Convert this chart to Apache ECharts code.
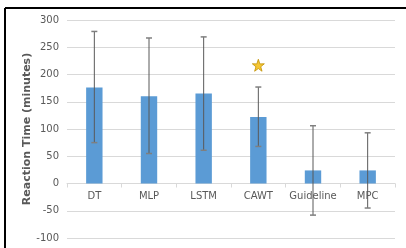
<!DOCTYPE html>
<html>

<head>
  <meta charset="utf-8" />
  <script src="https://cdn.jsdelivr.net/npm/echarts@6/dist/echarts.min.js"></script>
  <style>
    html, body { margin: 0; padding: 0; background: #fff; }
    #chart { width: 406px; height: 248px; }
  </style>
</head>

<body>
  <div id="chart"></div>
  <script type="text/javascript">
    const categories = ["DT", "MLP", "LSTM", "CAWT", "Guideline", "MPC"];
    const meanTime = [176, 160, 165, 122, 24, 24];
    const errHigh = [279, 267, 269, 177, 106, 93];
    const errLow = [75, 55, 61, 68, -58, -45];
    const starPoint = [["CAWT", 217]];
    const yTicks = { min: -100, max: 300, interval: 50 };

    const chart = echarts.init(document.getElementById("chart"));
    const font = "DejaVu Sans";
    const starPath = "path://M50,0 L61.8,35.1 L97.6,34.5 L69.1,56.9 L79.4,90.5 L50,70 L20.6,90.5 L30.9,56.9 L2.4,34.5 L38.2,35.1 Z";

    // grid: top 20, bottom 10 -> plot height 218 for 400 units; zero sits 100 units above the bottom
    const plotH = 248 - 20 - 10;
    const zeroOffset = -plotH * (0 - yTicks.min) / (yTicks.max - yTicks.min);

    var option = {
      animation: false,
      grid: { left: 67, right: 11, top: 20, bottom: 10, outerBoundsMode: 'none' },
      xAxis: {
        type: 'category',
        data: categories,
        offset: zeroOffset,
        axisLine: { onZero: false, lineStyle: { color: '#d9d9d9', width: 1 } },
        axisTick: { show: true, length: 4, lineStyle: { color: '#d9d9d9' } },
        axisLabel: { color: '#595959', fontFamily: font, fontSize: 10, margin: 8, interval: 0 },
        splitLine: { show: false }
      },
      yAxis: {
        type: 'value',
        min: yTicks.min,
        max: yTicks.max,
        interval: yTicks.interval,
        name: 'Reaction Time (minutes)',
        nameLocation: 'middle',
        nameGap: 34,
        nameMoveOverlap: false,
        nameTextStyle: { color: '#595959', fontFamily: font, fontSize: 11, fontWeight: 'bold' },
        axisLine: { show: false },
        axisTick: { show: false },
        axisLabel: { color: '#595959', fontFamily: font, fontSize: 10, margin: 8 },
        splitLine: { lineStyle: { color: '#d9d9d9', width: 1 } }
      },
      graphic: [
        { type: 'line', shape: { x1: 5, y1: 8, x2: 406, y2: 8 }, style: { stroke: '#000', lineWidth: 2 } },
        { type: 'line', shape: { x1: 5, y1: 8, x2: 5, y2: 248 }, style: { stroke: '#000', lineWidth: 2 } }
      ],
      series: [
        {
          type: 'bar',
          data: meanTime,
          barWidth: '30%',
          itemStyle: { color: '#5b9bd5' }
        },
        {
          type: 'custom',
          data: categories.map((c, i) => [i, errLow[i], errHigh[i]]),
          z: 5,
          renderItem: function (params, api) {
            const x = api.value(0);
            const lo = api.coord([x, api.value(1)]);
            const hi = api.coord([x, api.value(2)]);
            const w = 3;
            return {
              type: 'group',
              children: [
                { type: 'line', shape: { x1: lo[0], y1: lo[1], x2: hi[0], y2: hi[1] }, style: { stroke: '#595959', lineWidth: 1 } },
                { type: 'line', shape: { x1: hi[0] - w, y1: hi[1], x2: hi[0] + w, y2: hi[1] }, style: { stroke: '#7f7f7f', lineWidth: 1.5 } },
                { type: 'line', shape: { x1: lo[0] - w, y1: lo[1], x2: lo[0] + w, y2: lo[1] }, style: { stroke: '#7f7f7f', lineWidth: 1.5 } }
              ]
            };
          }
        },
        {
          type: 'scatter',
          data: starPoint,
          symbol: starPath,
          symbolSize: 12,
          itemStyle: { color: '#f2b800', borderColor: '#c09000', borderWidth: 1 },
          z: 6
        }
      ]
    };

    chart.setOption(option);

    window.onresize = () => {
      chart?.resize();
    };
  </script>
</body>

</html>
